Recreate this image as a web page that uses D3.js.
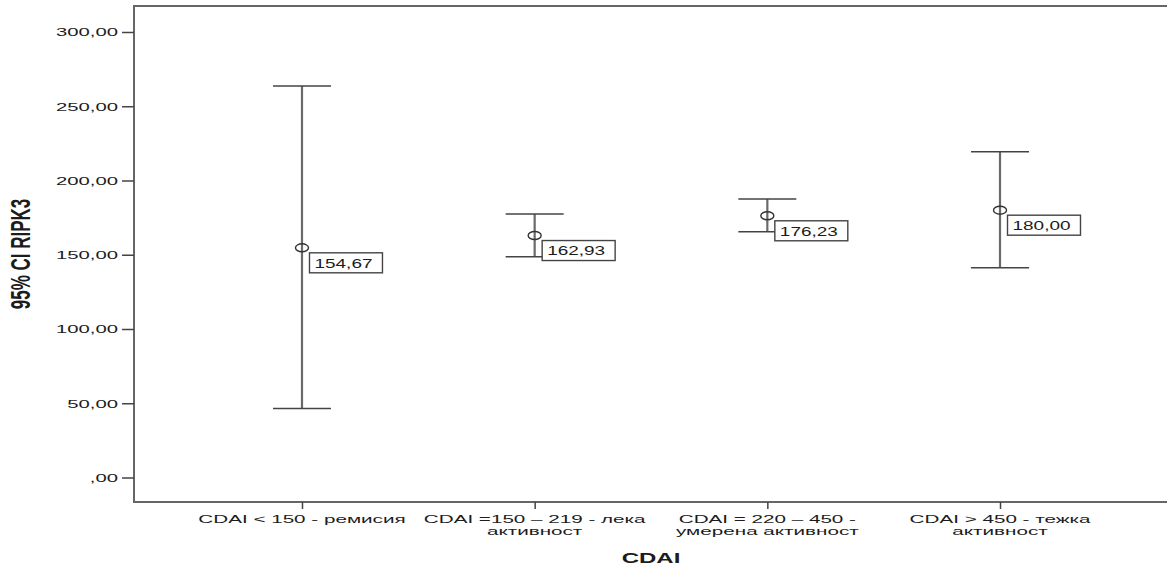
<!DOCTYPE html>
<html>
<head>
<meta charset="utf-8">
<script src="https://cdn.jsdelivr.net/npm/d3@7"></script>
<style>
  html, body { margin: 0; padding: 0; background: #fff; }
  svg { display: block; }
  text { font-family: "Liberation Sans", Arial, sans-serif; fill: #1c1c1c; }
</style>
</head>
<body>
<svg id="chart" width="1167" height="566"></svg>
<script>
// Groups (CDAI activity classes), each label split into its display lines
const categories = [
  "CDAI < 150 - ремисия",
  "CDAI =150 – 219 - лека активност",
  "CDAI = 220 – 450 - умерена активност",
  "CDAI > 450 - тежка активност"
];
const categoryLines = [
  ["CDAI < 150 - ремисия"],
  ["CDAI =150 – 219 - лека", "активност"],
  ["CDAI = 220 – 450 -", "умерена активност"],
  ["CDAI > 450 - тежка", "активност"]
];

// Mean RIPK3 and its 95% confidence interval per group
const means = [154.67, 162.93, 176.23, 180.00];
const lower = [46.5, 148.7, 165.5, 141.2];
const upper = [263.7, 177.4, 187.5, 219.4];
const meanLabels = ["154,67", "162,93", "176,23", "180,00"];

// Y axis ticks
const yTicks = [0, 50, 100, 150, 200, 250, 300];
const yTickLabels = [",00", "50,00", "100,00", "150,00", "200,00", "250,00", "300,00"];

const xTitle = "CDAI";
const yTitle = "95% CI RIPK3";

const svg = d3.select("#chart");
const plot = { left: 134, right: 1168, top: 6, bottom: 502 };

const x = d3.scalePoint()
  .domain(categories)
  .range([plot.left, plot.right])
  .padding(0.722);

const y = d3.scaleLinear()
  .domain([-16.5, 317.5])
  .range([plot.bottom, plot.top]);

const frameColor = "#666";

// Plot frame
svg.append("rect")
  .attr("x", plot.left).attr("y", plot.top)
  .attr("width", plot.right - plot.left).attr("height", plot.bottom - plot.top)
  .attr("fill", "none").attr("stroke", frameColor).attr("stroke-width", 2);

// Y axis
const yAxis = svg.append("g")
  .attr("transform", `translate(${plot.left},0)`)
  .call(d3.axisLeft(y).tickValues(yTicks).tickFormat((d, i) => yTickLabels[i]).tickSize(12));
yAxis.select(".domain").remove();
yAxis.selectAll(".tick line").attr("stroke", "#444").attr("stroke-width", 1.5);
yAxis.selectAll(".tick text")
  .attr("x", 0)
  .attr("dy", "0.34em")
  .attr("transform", "translate(-16,0) scale(1.75,1)")
  .style("font-size", "11.6px")
  .style("font-family", "'Liberation Sans', Arial, sans-serif")
  .attr("fill", "#222");

// X axis
const xAxis = svg.append("g")
  .attr("transform", `translate(0,${plot.bottom})`)
  .call(d3.axisBottom(x).tickSize(7).tickFormat(""));
xAxis.select(".domain").remove();
xAxis.selectAll(".tick line").attr("stroke", "#444").attr("stroke-width", 1.5);

// Category labels (wrapped, horizontally widened glyphs)
categories.forEach((c, i) => {
  const g = svg.append("g")
    .attr("transform", `translate(${x(c)},${plot.bottom + 21}) scale(1.78,1)`);
  categoryLines[i].forEach((line, j) => {
    g.append("text")
      .attr("y", j * 11.8)
      .attr("text-anchor", "middle")
      .style("font-size", "11.6px")
      .attr("fill", "#222")
      .text(line);
  });
});

// Error bars
const capHalf = 29;
const bars = svg.append("g").selectAll("g")
  .data(categories.map((c, i) => ({ c, m: means[i], lo: lower[i], hi: upper[i], lab: meanLabels[i] })))
  .join("g");

bars.append("line")
  .attr("x1", d => x(d.c)).attr("x2", d => x(d.c))
  .attr("y1", d => y(d.hi)).attr("y2", d => y(d.lo))
  .attr("stroke", "#6a6a6a").attr("stroke-width", 2.2);

bars.append("line")
  .attr("x1", d => x(d.c) - capHalf).attr("x2", d => x(d.c) + capHalf)
  .attr("y1", d => y(d.hi)).attr("y2", d => y(d.hi))
  .attr("stroke", "#444").attr("stroke-width", 1.5);

bars.append("line")
  .attr("x1", d => x(d.c) - capHalf).attr("x2", d => x(d.c) + capHalf)
  .attr("y1", d => y(d.lo)).attr("y2", d => y(d.lo))
  .attr("stroke", "#444").attr("stroke-width", 1.5);

bars.append("ellipse")
  .attr("cx", d => x(d.c)).attr("cy", d => y(d.m))
  .attr("rx", 6.5).attr("ry", 4)
  .attr("fill", "none").attr("stroke", "#333").attr("stroke-width", 1.4);

// Mean value labels in boxes
const labelScale = 1.58;
bars.each(function (d) {
  const g = d3.select(this);
  const bx = x(d.c) + 7.5;
  const by = y(d.m) + 5;
  const rect = g.append("rect")
    .attr("x", bx).attr("y", by)
    .attr("height", 20)
    .attr("fill", "#fff").attr("stroke", "#444").attr("stroke-width", 1.4);
  const t = g.append("text")
    .attr("transform", `translate(${bx + 5},${by + 14.8}) scale(${labelScale},1)`)
    .style("font-size", "12px")
    .attr("fill", "#111")
    .text(d.lab);
  const w = t.node().getComputedTextLength() * labelScale;
  rect.attr("width", w + 15);
});

// Axis titles
svg.append("text")
  .attr("transform", `translate(${(plot.left + plot.right) / 2},563) scale(1.6,1)`)
  .attr("text-anchor", "middle")
  .style("font-size", "15px").style("font-weight", "bold")
  .attr("fill", "#111")
  .text(xTitle);

svg.append("text")
  .attr("transform", `translate(30,${(plot.top + plot.bottom) / 2}) scale(1.6,1) rotate(-90)`)
  .attr("text-anchor", "middle")
  .style("font-size", "17px").style("font-weight", "bold")
  .attr("fill", "#111")
  .text(yTitle);
</script>
</body>
</html>
